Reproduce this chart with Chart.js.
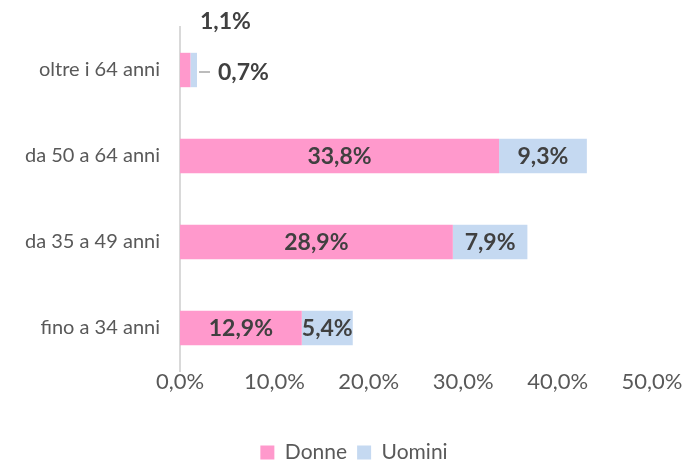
<!DOCTYPE html>
<html>
<head>
<meta charset="utf-8">
<script src="https://cdn.jsdelivr.net/npm/chart.js@4"></script>
<style>
  html, body { margin: 0; padding: 0; background: #fff; }
  #wrap { width: 683px; height: 461px; }
</style>
</head>
<body>
<div id="wrap"><canvas id="ageChart" width="683" height="461"></canvas></div>
<script>
const categories = ['oltre i 64 anni', 'da 50 a 64 anni', 'da 35 a 49 anni', 'fino a 34 anni'];
const donne = [1.1, 33.8, 28.9, 12.9];
const uomini = [0.7, 9.3, 7.9, 5.4];
const xTicks = [0, 10, 20, 30, 40, 50];

const FONT = 'Lato, "Open Sans", sans-serif';
const fmt = v => v.toFixed(1).replace('.', ',') + '%';

// value labels, the tiny first bar gets its labels outside
const labelPlugin = {
  id: 'barLabels',
  afterLayout(chart) {
    // legend sits a bit right of centre in the original
    chart.legend.left += 28;
    chart.legend.right += 28;
  },
  afterDatasetsDraw(chart) {
    const ctx = chart.ctx;
    ctx.save();
    ctx.font = 'bold 23px ' + FONT;
    ctx.fillStyle = '#404040';
    ctx.textBaseline = 'middle';
    chart.data.datasets.forEach((ds, di) => {
      const meta = chart.getDatasetMeta(di);
      meta.data.forEach((bar, i) => {
        const txt = fmt(ds.data[i]);
        if (i === 0) {
          if (di === 0) {
            ctx.textAlign = 'center';
            ctx.fillText(txt, bar.x + 35, bar.y - 48);
          } else {
            ctx.strokeStyle = '#a6a6a6';
            ctx.lineWidth = 1.5;
            ctx.beginPath();
            ctx.moveTo(bar.x + 2, bar.y + 2);
            ctx.lineTo(bar.x + 13, bar.y + 2);
            ctx.stroke();
            ctx.textAlign = 'left';
            ctx.fillText(txt, bar.x + 21, bar.y + 3);
          }
          return;
        }
        const mid = (bar.x + bar.base) / 2;
        ctx.textAlign = 'center';
        ctx.fillText(txt, mid, bar.y + 1);
      });
    });
    ctx.restore();
  }
};

new Chart(document.getElementById('ageChart'), {
  type: 'bar',
  data: {
    labels: categories,
    datasets: [
      { label: 'Donne', data: donne, backgroundColor: '#ff99cc' },
      { label: 'Uomini', data: uomini, backgroundColor: '#c5d9f1' }
    ]
  },
  options: {
    indexAxis: 'y',
    responsive: false,
    animation: false,
    layout: { padding: { top: 27, right: 31, left: 0, bottom: -12 } },
    datasets: { bar: { barPercentage: 0.8, categoryPercentage: 0.5 } },
    scales: {
      x: {
        stacked: true,
        min: 0,
        max: 50,
        afterBuildTicks: s => { s.ticks = xTicks.map(v => ({ value: v })); },
        grid: { display: false, drawTicks: false },
        border: { display: false },
        ticks: {
          callback: v => fmt(v),
          color: '#595959',
          font: { family: FONT, size: 22 },
          padding: -2,
          maxRotation: 0
        },
        afterFit: s => { s.height = 61; }
      },
      y: {
        stacked: true,
        grid: { display: false, drawTicks: false },
        border: { color: '#d9d9d9', width: 2 },
        ticks: {
          color: '#595959',
          font: { family: FONT, size: 20 },
          padding: 20
        },
        afterFit: s => { s.width = 180; s.paddingTop = 0; s.paddingBottom = 0; }
      }
    },
    plugins: {
      legend: {
        position: 'bottom',
        labels: {
          color: '#595959',
          font: { family: FONT, size: 21 },
          boxWidth: 14,
          boxHeight: 14,
          padding: 10
        }
      },
      tooltip: { enabled: false }
    }
  },
  plugins: [labelPlugin]
});
</script>
</body>
</html>
